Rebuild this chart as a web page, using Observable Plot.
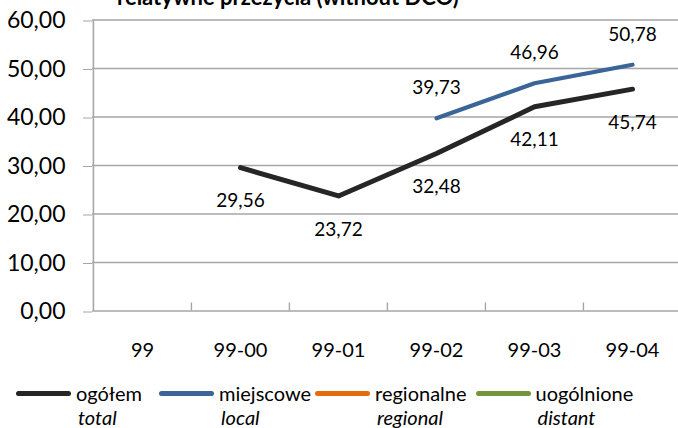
<!DOCTYPE html>
<html>
<head>
<meta charset="utf-8">
<script src="https://cdn.jsdelivr.net/npm/d3@7"></script>
<script src="https://cdn.jsdelivr.net/npm/@observablehq/plot@0.6"></script>
<style>
  html, body { margin: 0; padding: 0; background: #fff; }
  #wrap { position: relative; width: 678px; height: 428px; overflow: hidden; font-family: Lato, "Open Sans", sans-serif; }
  #title { position: absolute; left: 117px; top: -14.5px; font: bold 22px/22px Lato, sans-serif; color: #000; white-space: nowrap; }
  #chart { position: absolute; left: 0; top: 0; }
  #legend { position: absolute; left: 16px; top: 381px; display: flex; gap: 0; font-size: 20px; line-height: 24px; color: #000; }
  .item { display: flex; align-items: flex-start; }
  .sw { width: 55px; height: 5px; border-radius: 3px; margin-top: 10px; margin-right: 5px; }
  .lab { display: flex; flex-direction: column; }
  .lab i { padding-left: 2px; }
</style>
</head>
<body>
<div id="wrap">
  <div id="chart"></div>
  <div id="title"></div>
  <div id="legend"></div>
</div>
<script>
const titleText = "relatywne przeżycia (without DCO)";
const categories = ["99", "99-00", "99-01", "99-02", "99-03", "99-04"];
const totalValues = [null, 29.56, 23.72, 32.48, 42.11, 45.74];
const localValues = [null, null, null, 39.73, 46.96, 50.78];
const seriesNames = ["ogółem", "miejscowe", "regionalne", "uogólnione"];
const seriesNamesEn = ["total", "local", "regional", "distant"];
const seriesColors = ["#262626", "#3A6596", "#E46C0A", "#77933C"];
const yTicks = [0, 10, 20, 30, 40, 50, 60];

document.getElementById("title").textContent = titleText;

const totalRows = categories.map((c, i) => ({cat: c, value: totalValues[i], series: seriesNames[0]})).filter(d => d.value != null);
const localRows = categories.map((c, i) => ({cat: c, value: localValues[i], series: seriesNames[1]})).filter(d => d.value != null);
const fmt = d => d.toFixed(2).replace(".", ",");
const gridColor = "#a6a6a6";
const half = (678 + 3 - 92) / categories.length / 2;

const chart = Plot.plot({
  width: 678,
  height: 370,
  marginTop: 19.5,
  marginBottom: 59.5,
  marginLeft: 92,
  marginRight: -3,
  style: {fontFamily: "Lato, sans-serif", background: "transparent", overflow: "visible", color: "#000"},
  x: {type: "point", domain: categories, padding: 0.5, label: null},
  y: {domain: [0, 60], label: null},
  color: {domain: seriesNames, range: seriesColors},
  marks: [
    Plot.ruleY(yTicks.slice(1), {stroke: gridColor, strokeWidth: 1.4}),
    Plot.ruleY([0], {stroke: gridColor, strokeWidth: 1.6}),
    Plot.ruleX([categories[0]], {dx: -half, y1: 0, y2: 60, stroke: gridColor, strokeWidth: 1.6}),
    Plot.ruleX(categories.slice(1), {dx: -half, y1: 0, y2: 1.65, stroke: gridColor, strokeWidth: 1.4}),
    Plot.axisY({ticks: yTicks, tickSize: 9, tickPadding: 18, tickFormat: fmt, fontSize: 23, stroke: gridColor, fill: "#000", dy: 1, label: null}),
    Plot.axisX({tickSize: 0, tickPadding: 32, fontSize: 20, fill: "#000", label: null}),
    Plot.line(totalRows, {x: "cat", y: "value", stroke: "series", strokeWidth: 5, strokeLinecap: "round", strokeLinejoin: "round"}),
    Plot.line(localRows, {x: "cat", y: "value", stroke: "series", strokeWidth: 4.2, strokeLinecap: "round", strokeLinejoin: "round"}),
    Plot.text(totalRows, {x: "cat", y: "value", text: d => fmt(d.value), dy: 33.5, fontSize: 19, fill: "#000"}),
    Plot.text(localRows, {x: "cat", y: "value", text: d => fmt(d.value), dy: -30, fontSize: 19, fill: "#000"})
  ]
});
document.getElementById("chart").appendChild(chart);

const legend = document.getElementById("legend");
const gaps = [17, 4, 9, 0];
seriesNames.forEach((name, i) => {
  const item = document.createElement("div");
  item.className = "item";
  item.style.marginRight = gaps[i] + "px";
  const sw = document.createElement("div");
  sw.className = "sw";
  sw.style.background = seriesColors[i];
  const lab = document.createElement("div");
  lab.className = "lab";
  const top = document.createElement("span");
  top.textContent = name;
  const bot = document.createElement("i");
  bot.textContent = seriesNamesEn[i];
  lab.appendChild(top);
  lab.appendChild(bot);
  item.appendChild(sw);
  item.appendChild(lab);
  legend.appendChild(item);
});
</script>
</body>
</html>
